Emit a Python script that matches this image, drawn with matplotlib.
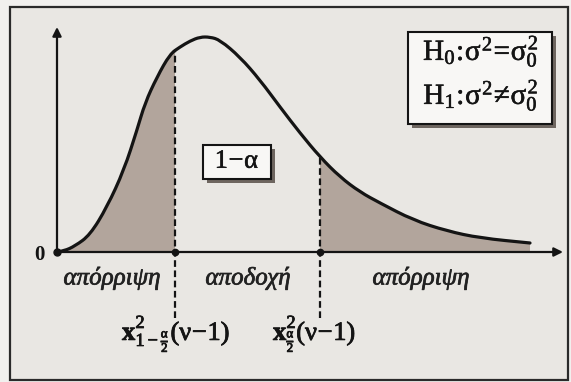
import numpy as np
import matplotlib
matplotlib.use("Agg")
import matplotlib.pyplot as plt
from matplotlib.patches import Rectangle, PathPatch
from matplotlib.path import Path
import matplotlib.patheffects as pe

# upright serif letters (including Greek) inside math text
plt.rcParams["font.family"] = ["Liberation Serif", "DejaVu Serif"]
plt.rcParams["mathtext.fontset"] = "custom"
plt.rcParams["mathtext.rm"] = "Liberation Serif"
plt.rcParams["mathtext.it"] = "Liberation Serif"
plt.rcParams["mathtext.bf"] = "Liberation Serif:bold"

# Density curve of the test statistic (schematic chi-square shape)
curve_x = [0.0, 0.14, 0.36, 0.66, 1.0, 1.34, 1.6, 1.76, 2.0, 2.26, 2.46, 2.66,
           2.86, 3.06, 3.26, 3.66, 4.06, 4.46, 4.86, 5.26, 5.66, 6.06, 6.46,
           7.12, 7.8, 8.46, 9.46]
curve_y = [0.0, 0.001, 0.006, 0.017, 0.045, 0.082, 0.122, 0.149, 0.175, 0.198,
           0.205, 0.211, 0.215, 0.215, 0.212, 0.195, 0.172, 0.145, 0.119,
           0.095, 0.075, 0.060, 0.049, 0.032, 0.021, 0.014, 0.009]

# Critical values of the two-sided test
crit_lower = 2.36
crit_upper = 5.26

region_labels = ["απόρριψη", "αποδοχή", "απόρριψη"]
region_centers = [1.10, 3.82, 7.28]
crit_labels = [r"$\mathbf{x}^{2}_{1-\frac{\alpha}{2}}(\nu\!-\!1)$",
               r"$\mathbf{x}^{2}_{\frac{\alpha}{2}}(\nu\!-\!1)$"]
hyp_lines = [r"$\mathrm{H}_0\!:\!\sigma^2\!=\!\sigma_0^2$",
             r"$\mathrm{H}_1\!:\!\sigma^2\!\neq\!\sigma_0^2$"]
accept_label = r"$1\!-\!\alpha$"

W, H = 571, 382
fig = plt.figure(figsize=(W / 100, H / 100), dpi=100)
ax = fig.add_axes([0, 0, 1, 1])
ox, oy, sx, sy = 57, 252, 50.0, 1000.0
ax.set_xlim(-ox / sx, (W - ox) / sx)
ax.set_ylim((oy - H) / sy, oy / sy)
ax.axis("off")

def X(px):
    return (px - ox) / sx

def Y(py):
    return (oy - py) / sy

ink = "#141414"
paper = "#e9e7e3"
shade = "#b2a59c"

fig.patch.set_facecolor("#f1f0ee")
# outer frame of the figure
ax.add_patch(Rectangle((X(10), Y(380)), X(568) - X(10), Y(7) - Y(380),
                       facecolor=paper, edgecolor="#2a2a2a", lw=1.6, zorder=0))

# smooth quadratic Bezier path using the curve points as control points
pts = np.column_stack([curve_x, curve_y])
verts = [tuple(pts[0])]
codes = [Path.MOVETO]
for i in range(1, len(pts) - 1):
    mid = (pts[i] + pts[i + 1]) / 2
    verts += [tuple(pts[i]), tuple(mid)]
    codes += [Path.CURVE3, Path.CURVE3]
verts.append(tuple(pts[-1]))
codes.append(Path.LINETO)
curve_path = Path(verts, codes)

area_path = Path(verts + [(curve_x[-1], 0.0), (0.0, 0.0), (0.0, 0.0)],
                 codes + [Path.LINETO, Path.LINETO, Path.CLOSEPOLY])

for lo, hi in ((0.0, crit_lower), (crit_upper, curve_x[-1] + 0.1)):
    clip = Rectangle((lo, -0.01), hi - lo, 0.3, transform=ax.transData)
    patch = PathPatch(area_path, facecolor=shade, edgecolor="none", zorder=1)
    ax.add_patch(patch)
    patch.set_clip_path(clip)

ax.add_patch(PathPatch(curve_path, facecolor="none", edgecolor=ink, lw=2.3,
                       joinstyle="round", capstyle="round", zorder=4))

flat = curve_path.to_polygons(closed_only=False)[0]

# axes with arrow heads
arrow = dict(arrowstyle="-|>", lw=1.6, color=ink, mutation_scale=13,
             shrinkA=0, shrinkB=0)
ax.annotate("", xy=(X(563), 0), xytext=(0, 0), arrowprops=arrow, zorder=3)
ax.annotate("", xy=(0, Y(27)), xytext=(0, 0), arrowprops=arrow, zorder=3)

# critical value markers
for c in (crit_lower, crit_upper):
    top = np.interp(c, flat[:, 0], flat[:, 1])
    ax.plot([c, c], [Y(318), top], color=ink, lw=1.6, ls=(0, (3.0, 1.6)),
            zorder=3)
    ax.plot([c], [0], "o", color=ink, ms=4.5, zorder=5)
ax.plot([0], [0], "o", color=ink, ms=5, zorder=5)

ax.text(X(39), Y(255), "0", weight="bold", fontsize=15, color=ink,
        ha="center", va="center")

soft = [pe.withStroke(linewidth=0.5, foreground="#222222")]
for lbl, c in zip(region_labels, region_centers):
    ax.text(c, Y(278), lbl, style="italic", fontsize=18, color="#222222",
            ha="center", va="center", path_effects=soft)

bold = [pe.withStroke(linewidth=0.6, foreground=ink)]
ax.text(X(122), Y(340), crit_labels[0], fontsize=19, color=ink,
        ha="left", va="baseline", path_effects=bold)
ax.text(X(273), Y(340), crit_labels[1], fontsize=19, color=ink,
        ha="left", va="baseline", path_effects=bold)

def boxed(x0, y0, x1, y1):
    ax.add_patch(Rectangle((X(x0 + 4), Y(y1 + 4)), X(x1) - X(x0),
                           Y(y0) - Y(y1), facecolor="#6e6660",
                           edgecolor="none", zorder=5))
    ax.add_patch(Rectangle((X(x0), Y(y1)), X(x1) - X(x0), Y(y0) - Y(y1),
                           facecolor="#f8f7f5", edgecolor=ink, lw=1.5,
                           zorder=6))

thin = [pe.withStroke(linewidth=0.4, foreground=ink)]
boxed(408, 32, 552, 124)
ax.text(X(481), Y(60), hyp_lines[0], fontsize=21, color=ink, ha="center",
        va="baseline", zorder=7, path_effects=thin)
ax.text(X(481), Y(104), hyp_lines[1], fontsize=21, color=ink, ha="center",
        va="baseline", zorder=7, path_effects=thin)

boxed(203, 145, 271, 179)
ax.text(X(237), Y(162), accept_label, fontsize=19, color=ink, ha="center",
        va="center", zorder=7, path_effects=thin)

fig.savefig("out.png", dpi=100, facecolor=fig.get_facecolor())
